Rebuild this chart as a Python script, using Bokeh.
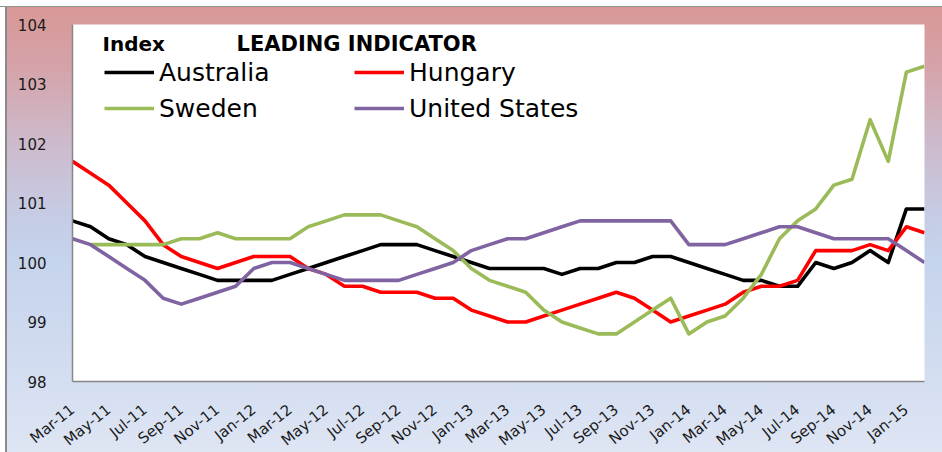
import numpy as np
from bokeh.plotting import figure
from bokeh.models import Range1d, FixedTicker, Legend, LegendItem, Label
from bokeh.embed import file_html
from bokeh.resources import INLINE

# ---------------- data ----------------
months = ["Mar-11", "Apr-11", "May-11", "Jun-11", "Jul-11", "Aug-11", "Sep-11", "Oct-11",
          "Nov-11", "Dec-11", "Jan-12", "Feb-12", "Mar-12", "Apr-12", "May-12", "Jun-12",
          "Jul-12", "Aug-12", "Sep-12", "Oct-12", "Nov-12", "Dec-12", "Jan-13", "Feb-13",
          "Mar-13", "Apr-13", "May-13", "Jun-13", "Jul-13", "Aug-13", "Sep-13", "Oct-13",
          "Nov-13", "Dec-13", "Jan-14", "Feb-14", "Mar-14", "Apr-14", "May-14", "Jun-14",
          "Jul-14", "Aug-14", "Sep-14", "Oct-14", "Nov-14", "Dec-14", "Jan-15", "Feb-15"]

australia = [100.7, 100.6, 100.4, 100.3, 100.1, 100.0, 99.9, 99.8, 99.7, 99.7, 99.7, 99.7,
             99.8, 99.9, 100.0, 100.1, 100.2, 100.3, 100.3, 100.3, 100.2, 100.1, 100.0, 99.9,
             99.9, 99.9, 99.9, 99.8, 99.9, 99.9, 100.0, 100.0, 100.1, 100.1, 100.0, 99.9,
             99.8, 99.7, 99.7, 99.6, 99.6, 100.0, 99.9, 100.0, 100.2, 100.0, 100.9, 100.9]

hungary = [101.7, 101.5, 101.3, 101.0, 100.7, 100.3, 100.1, 100.0, 99.9, 100.0, 100.1, 100.1,
           100.1, 99.9, 99.8, 99.6, 99.6, 99.5, 99.5, 99.5, 99.4, 99.4, 99.2, 99.1,
           99.0, 99.0, 99.1, 99.2, 99.3, 99.4, 99.5, 99.4, 99.2, 99.0, 99.1, 99.2,
           99.3, 99.5, 99.6, 99.6, 99.7, 100.2, 100.2, 100.2, 100.3, 100.2, 100.6, 100.5]

sweden = [None, 100.3, 100.3, 100.3, 100.3, 100.3, 100.4, 100.4, 100.5, 100.4, 100.4, 100.4,
          100.4, 100.6, 100.7, 100.8, 100.8, 100.8, 100.7, 100.6, 100.4, 100.2, 99.9, 99.7,
          99.6, 99.5, 99.2, 99.0, 98.9, 98.8, 98.8, 99.0, 99.2, 99.4, 98.8, 99.0,
          99.1, 99.4, 99.8, 100.4, 100.7, 100.9, 101.3, 101.4, 102.4, 101.7, 103.2, 103.3]

united_states = [100.4, 100.3, 100.1, 99.9, 99.7, 99.4, 99.3, 99.4, 99.5, 99.6, 99.9, 100.0,
                 100.0, 99.9, 99.8, 99.7, 99.7, 99.7, 99.7, 99.8, 99.9, 100.0, 100.2, 100.3,
                 100.4, 100.4, 100.5, 100.6, 100.7, 100.7, 100.7, 100.7, 100.7, 100.7, 100.3, 100.3,
                 100.3, 100.4, 100.5, 100.6, 100.6, 100.5, 100.4, 100.4, 100.4, 100.4, 100.2, 100.0]

series_names = ["Australia", "Hungary", "Sweden", "United States"]
series_colors = ["#000000", "#FF0000", "#9BBB59", "#8064A2"]
y_ticks = [98, 99, 100, 101, 102, 103, 104]
x_tick_step = 2

# ---------------- figure ----------------
W, H = 942, 452
FL, FT, FR, FB = 72, 24, 924, 381          # plot-area box on the page
p = figure(frame_width=FR - FL, frame_height=FB - FT,
           output_backend="svg", toolbar_location=None,
           x_range=Range1d(0, len(months) - 1), y_range=Range1d(y_ticks[0], y_ticks[-1]),
           min_border_left=FL, min_border_right=W - FR, min_border_top=FT, min_border_bottom=H - FB)

p.styles = {"background":
            "linear-gradient(180deg, #ffffff 0px, #ffffff 6px, #8C958C 6px, #8C958C 7px, transparent 7px), "
            "linear-gradient(90deg, #ffffff 0px, #ffffff 5px, #8A8A8A 5px, #8A8A8A 7px, transparent 7px), "
            "linear-gradient(180deg, #D99694 0%, #D5A2A8 14%, #CDB9CA 30%, "
            "#C6CBE4 46%, #C5D3EC 56%, #D0DBF0 76%, #DFE6F4 100%)"}
p.border_fill_alpha = 0
p.background_fill_color = "white"
p.outline_line_color = None
p.grid.visible = False

x = np.arange(len(months))
renderers = []
for vals, col in zip([australia, hungary, sweden, united_states], series_colors):
    yv = np.array([np.nan if v is None else v for v in vals], dtype=float)
    r = p.line(x, yv, line_color=col, line_width=3.6, line_join="round")
    renderers.append(r)

# axes
font = "DejaVu Sans"
for ax in (p.xaxis[0], p.yaxis[0]):
    ax.axis_line_color = "#868686"
    ax.axis_line_width = 1.5
    ax.major_tick_line_color = None
    ax.minor_tick_line_color = None
    ax.major_label_text_font = font
    ax.major_label_text_font_size = "15px"
    ax.major_label_text_color = "#1a1a1a"

p.yaxis.ticker = FixedTicker(ticks=y_ticks)
p.yaxis.major_label_standoff = 20

xt = list(range(0, len(months), x_tick_step))
p.xaxis.ticker = FixedTicker(ticks=xt)
p.xaxis.major_label_overrides = {i: months[i] for i in xt}
p.xaxis.major_label_orientation = 0.68
p.xaxis.major_label_standoff = 20

px_per_unit = (FB - FT) / (y_ticks[-1] - y_ticks[0])

# legend as two columns
def make_legend(idx, x_px):
    leg = Legend(items=[LegendItem(label=series_names[i], renderers=[renderers[i]]) for i in idx],
                 location=(x_px, 258), orientation="vertical",
                 label_text_font=font, label_text_font_size="25px", label_text_color="#000000",
                 glyph_width=50, glyph_height=30, label_height=30, label_standoff=5,
                 spacing=6, padding=0, margin=0, border_line_color=None,
                 background_fill_alpha=0)
    p.add_layout(leg, "center")

make_legend([0, 2], 104 - FL)
make_legend([1, 3], 354 - FL)

# titles (positioned in data space of the frame)
def px_to_data(px, py):
    xd = (px - FL) / (FR - FL) * (len(months) - 1)
    yd = y_ticks[-1] - (py - FT) / px_per_unit
    return xd, yd

xd, yd = px_to_data(102, 43)
p.add_layout(Label(x=xd, y=yd, text="Index", text_font=font, text_font_style="bold",
                   text_font_size="20px", text_baseline="middle", text_align="left",
                   text_color="#000000"))
xd, yd = px_to_data(236, 43)
p.add_layout(Label(x=xd, y=yd, text="LEADING INDICATOR", text_font=font, text_font_style="bold",
                   text_font_size="21px", text_baseline="middle", text_align="left",
                   text_color="#000000"))

open("out.html", "w").write(file_html(p, INLINE))
